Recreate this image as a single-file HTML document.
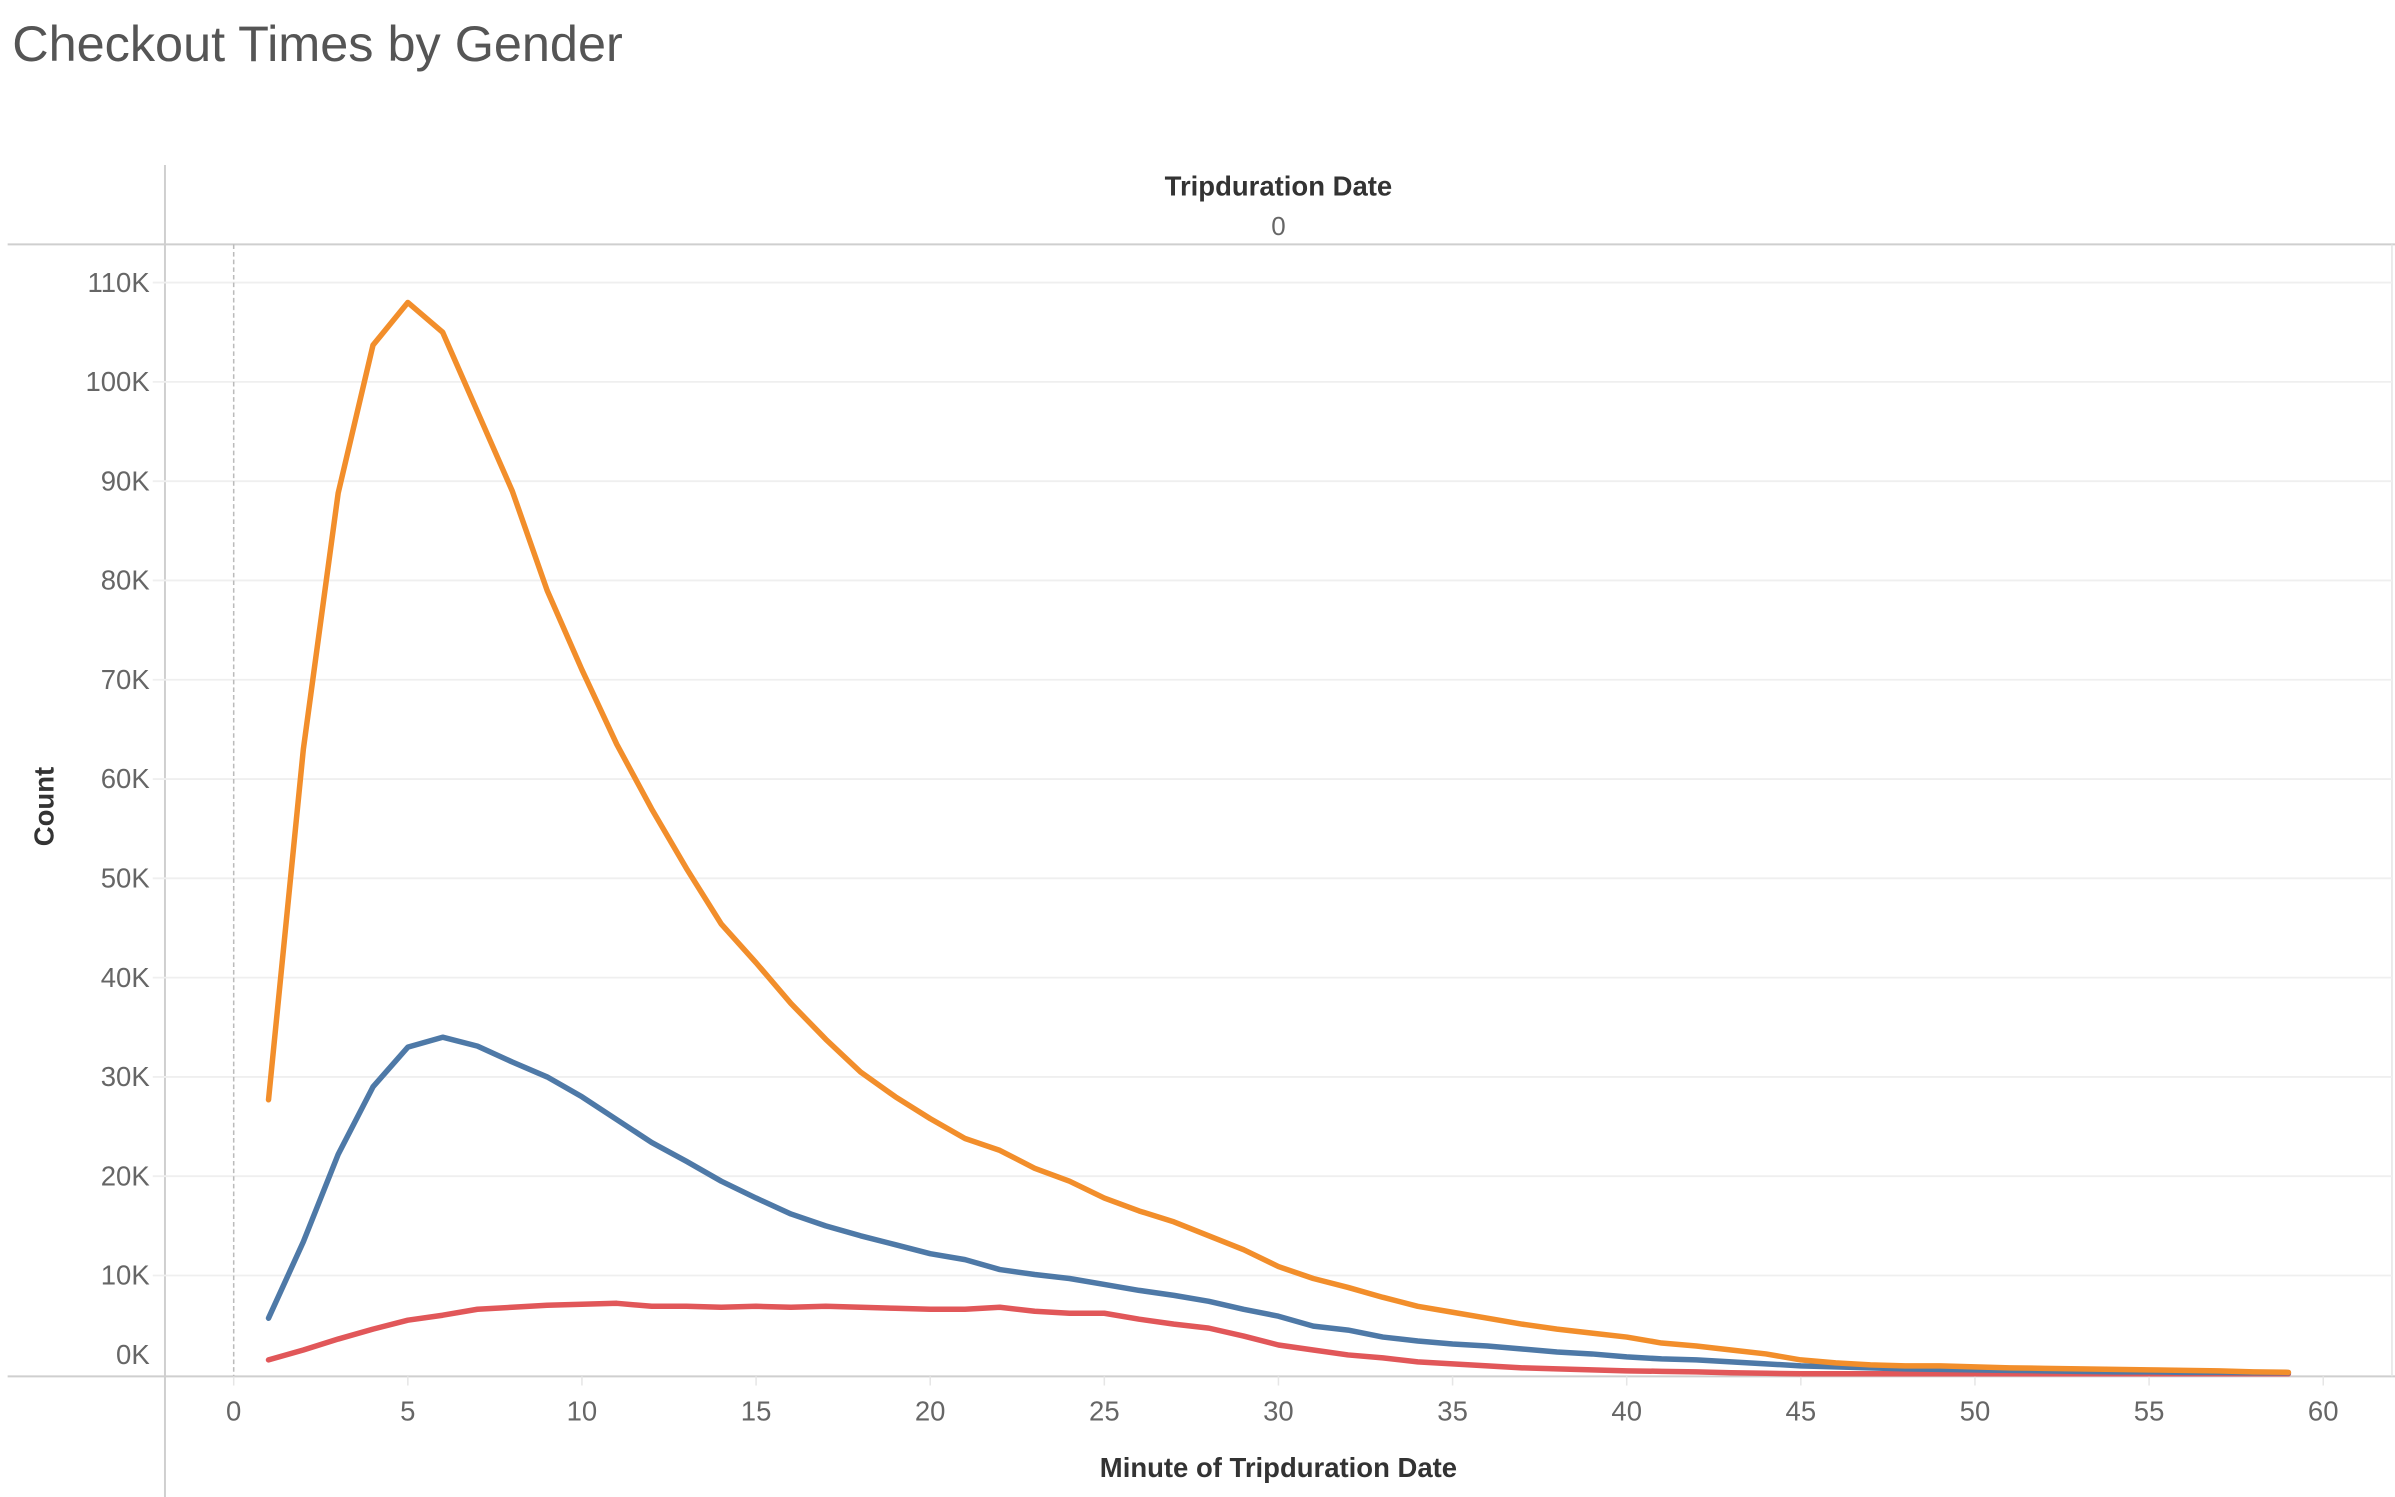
<!DOCTYPE html>
<html><head><meta charset="utf-8"><style>
html,body{margin:0;padding:0;background:#fff;}
svg{display:block;}
text{font-family:"Liberation Sans",sans-serif;}
</style></head><body>
<svg id="chart" width="2395" height="1497" viewBox="0 0 1568 980" preserveAspectRatio="none">
<text x="8" y="40" font-size="33" fill="#555" font-weight="300">Checkout Times by Gender</text>
<g id="frame">
<line x1="5" y1="160" x2="1568" y2="160" stroke="#cfcfcf" stroke-width="1.3"/>
<line x1="108" y1="108" x2="108" y2="980" stroke="#cfcfcf" stroke-width="1.3"/>
<line x1="5" y1="901" x2="1568" y2="901" stroke="#cfcfcf" stroke-width="1.3"/>
<line x1="1566" y1="160" x2="1566" y2="901" stroke="#e4e4e4" stroke-width="1"/>
</g>
<text x="837" y="128" font-size="18" font-weight="bold" fill="#333" text-anchor="middle">Tripduration Date</text>
<text x="837" y="154" font-size="17" fill="#666" text-anchor="middle">0</text>
<text transform="translate(35,528) rotate(-90)" font-size="18" font-weight="bold" fill="#333" text-anchor="middle">Count</text>
<text x="837" y="967" font-size="18" font-weight="bold" fill="#333" text-anchor="middle">Minute of Tripduration Date</text>
<g id="grid"></g><g id="axes"></g><g id="lines"></g>
</svg>
<script>
const minutes = [];
for (let i = 1; i <= 59; i++) minutes.push(i);
const maleCounts = [27.7,63,88.8,103.7,108,105,97,89,79,71,63.5,57,51,45.4,41.5,37.4,33.8,30.5,28,25.8,23.8,22.6,20.8,19.5,17.8,16.5,15.4,14,12.6,10.9,9.7,8.8,7.8,6.9,6.3,5.7,5.1,4.6,4.2,3.8,3.2,2.9,2.5,2.1,1.5,1.2,1.0,0.9,0.9,0.8,0.7,0.65,0.6,0.55,0.5,0.45,0.4,0.3,0.25];
const femaleCounts = [5.7,13.4,22.2,29,33,34,33.1,31.5,30,28,25.7,23.4,21.5,19.5,17.8,16.2,15,14,13.1,12.2,11.6,10.6,10.1,9.7,9.1,8.5,8,7.4,6.6,5.9,4.9,4.5,3.8,3.4,3.1,2.9,2.6,2.3,2.1,1.8,1.6,1.5,1.3,1.1,0.9,0.8,0.7,0.6,0.55,0.5,0.45,0.4,0.35,0.3,0.3,0.25,0.25,0.2,0.2];
const unknownCounts = [1.5,2.5,3.6,4.6,5.5,6,6.6,6.8,7,7.1,7.2,6.9,6.9,6.8,6.9,6.8,6.9,6.8,6.7,6.6,6.6,6.8,6.4,6.2,6.2,5.6,5.1,4.7,3.9,3.0,2.5,2.0,1.7,1.3,1.1,0.9,0.7,0.6,0.5,0.4,0.35,0.3,0.2,0.15,0.1,0.1,0.1,0.1,0.1,0.1,0.1,0.1,0.1,0.1,0.1,0.1,0.1,0.1,0.1];
const yTicks = [0,10,20,30,40,50,60,70,80,90,100,110];
const xTicks = [0,5,10,15,20,25,30,35,40,45,50,55,60];

const NS = "http://www.w3.org/2000/svg";
const X = v => 153 + v * (1521 - 153) / 60;
const Y = v => 900 - v * 6.5;
function mk(tag, attrs, parent){const e=document.createElementNS(NS,tag);for(const k in attrs)e.setAttribute(k,attrs[k]);parent.appendChild(e);return e;}
const grid=document.getElementById('grid'), axes=document.getElementById('axes'), lines=document.getElementById('lines');
yTicks.forEach(t=>{
  if(t>0){const g=mk('line',{x1:100,x2:1566,y1:Y(t),y2:Y(t),stroke:'#efefef','stroke-width':1.2},grid);
  
  }
  const l=mk('text',{x:98,y:Y(t)+(t===0?-7:6),'font-size':18,fill:'#666','text-anchor':'end'},axes);
  l.textContent=t+'K';
  
  
});
const zl=mk('line',{x1:X(0),x2:X(0),y1:160,y2:901,stroke:'#bbb','stroke-width':1,'stroke-dasharray':'3,2'},grid);


xTicks.forEach(t=>{
  const tk=mk('line',{x1:X(t),x2:X(t),y1:901,y2:907,stroke:'#e6e6e6','stroke-width':1},axes);
  
  
  const l=mk('text',{x:X(t),y:930,'font-size':18,fill:'#666','text-anchor':'middle'},axes);
  l.textContent=t;
  
  
});
function series(vals,color,name){
  const d=vals.map((v,i)=>(i?'L':'M')+X(minutes[i]).toFixed(2)+','+Y(v).toFixed(2)).join(' ');
  const p=mk('path',{d:d,fill:'none',stroke:color,'stroke-width':3.6,'stroke-linejoin':'round','stroke-linecap':'round'},lines);
  
  
}
series(unknownCounts,'#E15759','line-gender-unknown');
series(femaleCounts,'#4E79A7','line-gender-female');
series(maleCounts,'#F28E2B','line-gender-male');
</script>
</body></html>
